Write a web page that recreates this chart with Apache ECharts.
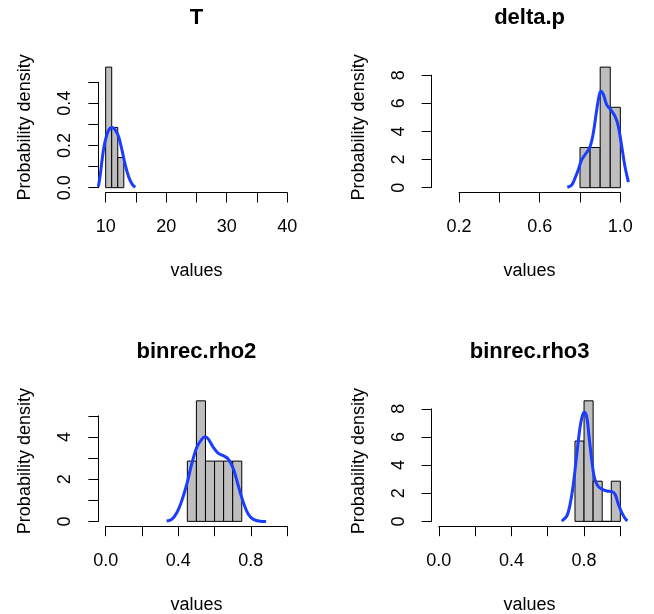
<!DOCTYPE html>
<html><head><meta charset="utf-8">
<script src="https://cdn.jsdelivr.net/npm/echarts@6/dist/echarts.min.js"></script>
<style>html,body{margin:0;padding:0;background:#fff}#c{width:654px;height:614px}</style>
</head><body><div id="c"></div>
<script>
// ---- text ----
const titles = ['T', 'delta.p', 'binrec.rho2', 'binrec.rho3'];
const xName = 'values';
const yName = 'Probability density';

// ---- histograms (bin edges and densities) ----
const T_breaks = [10, 11, 12, 13];
const T_density = [0.5714, 0.2857, 0.1429];
const deltaP_breaks = [0.80, 0.85, 0.90, 0.95, 1.00];
const deltaP_density = [2.857, 2.857, 8.571, 5.714];
const rho2_breaks = [0.45, 0.50, 0.55, 0.60, 0.65, 0.70, 0.75];
const rho2_density = [2.857, 5.714, 2.857, 2.857, 2.857, 2.857];
const rho3_breaks = [0.75, 0.80, 0.85, 0.90, 0.95, 1.00];
const rho3_density = [5.714, 8.571, 2.857, 0, 2.857];

// ---- density curves ----
const T_kdeX = [8.8, 9.1, 9.4, 9.7, 10.0, 10.5, 11.05, 11.6, 12.15, 12.7, 13.25, 13.8, 14.35, 14.9];
const T_kdeY = [0.005, 0.06, 0.13, 0.19, 0.23, 0.273, 0.285, 0.273, 0.241, 0.178, 0.107, 0.052, 0.018, 0.002];
const deltaP_kdeX = [0.737, 0.759, 0.775, 0.791, 0.808, 0.825, 0.849, 0.866, 0.883, 0.896, 0.904, 0.916, 0.932, 0.952, 0.974, 0.990, 1.007, 1.023, 1.040];
const deltaP_kdeY = [0.03, 0.19, 0.67, 1.26, 1.98, 2.34, 2.89, 3.89, 5.55, 6.62, 6.86, 6.62, 5.91, 5.55, 5.07, 4.36, 2.93, 1.5, 0.4];
const rho2_kdeX = [0.336, 0.364, 0.392, 0.419, 0.447, 0.474, 0.502, 0.530, 0.548, 0.566, 0.593, 0.621, 0.649, 0.676, 0.704, 0.731, 0.759, 0.787, 0.814, 0.851, 0.884];
const rho2_kdeY = [0.014, 0.095, 0.41, 0.97, 1.76, 2.71, 3.51, 3.9, 4.01, 3.9, 3.51, 3.22, 3.11, 2.95, 2.48, 1.68, 0.89, 0.33, 0.095, 0.01, 0];
const rho3_kdeX = [0.677, 0.705, 0.723, 0.741, 0.760, 0.778, 0.791, 0.802, 0.815, 0.828, 0.843, 0.857, 0.876, 0.898, 0.925, 0.953, 0.971, 0.989, 1.008, 1.030, 1.040];
const rho3_kdeY = [0.02, 0.38, 1.21, 2.64, 4.79, 6.69, 7.52, 7.76, 7.41, 5.98, 4.31, 3.12, 2.52, 2.29, 2.16, 2.12, 1.93, 1.21, 0.62, 0.14, 0.05];

// ---- axis limits and ticks ----
const xLimits = [[10, 40], [0.1, 1.0], [0, 1], [0, 1]];
const xTicks = [[10, 40, 5], [0.2, 1.0, 0.2], [0, 1, 0.2], [0, 1, 0.2]];
const xTickLabels = [['10', '20', '30', '40'], ['0.2', '0.6', '1.0'], ['0.0', '0.4', '0.8'], ['0.0', '0.4', '0.8']];
const xDecimals = [0, 1, 1, 1];
const yTicks = [[0, 0.5, 0.1], [0, 8, 2], [0, 5, 1], [0, 8, 2]];
const yTickLabels = [['0.0', '0.2', '0.4'], ['0', '2', '4', '6', '8'], ['0', '2', '4'], ['0', '2', '4', '6', '8']];
const yDecimals = [1, 0, 0, 0];

const breaks = [T_breaks, deltaP_breaks, rho2_breaks, rho3_breaks];
const densities = [T_density, deltaP_density, rho2_density, rho3_density];
const kdeXs = [T_kdeX, deltaP_kdeX, rho2_kdeX, rho3_kdeX];
const kdeYs = [T_kdeY, deltaP_kdeY, rho2_kdeY, rho3_kdeY];

// ---- layout ----
const boxes = [{l: 98.4, t: 62.3}, {l: 431.6, t: 62.3}, {l: 98.4, t: 396}, {l: 431.6, t: 396}];
const W = 196, H = 130.2;
const FONT = '"Liberation Sans", Arial, Helvetica, sans-serif';
const BLUE = '#1a3dff';

const grid = [], xAxis = [], yAxis = [], series = [], title = [];

for (let i = 0; i < 4; i++) {
  const {l: L, t: T} = boxes[i];
  const [xl0, xl1] = xLimits[i];
  const xmin = xl0 - 0.04 * (xl1 - xl0), xmax = xl1 + 0.04 * (xl1 - xl0);
  const yTop = Math.max(...densities[i]);
  const ymin = -0.04 * yTop, ymax = 1.04 * yTop;
  const g = grid.length;

  // plot grid
  grid.push({left: L, top: T, width: W, height: H, outerBoundsMode: 'none', containLabel: false});
  xAxis.push({gridIndex: g, type: 'value', min: xmin, max: xmax, show: true,
    axisLine: {show: false}, axisTick: {show: false}, axisLabel: {show: false}, splitLine: {show: false},
    name: xName, nameLocation: 'middle', nameGap: 70,
    nameTextStyle: {fontSize: 18, color: '#000', fontFamily: FONT}});
  yAxis.push({gridIndex: g, type: 'value', min: ymin, max: ymax, show: true,
    axisLine: {show: false}, axisTick: {show: false}, axisLabel: {show: false}, splitLine: {show: false},
    name: yName, nameLocation: 'middle', nameGap: 64, nameRotate: 90,
    nameTextStyle: {fontSize: 18, color: '#000', fontFamily: FONT}});

  // x axis grid
  const [tx0, tx1, txi] = xTicks[i];
  grid.push({left: L + (tx0 - xmin) / (xmax - xmin) * W, width: (tx1 - tx0) / (xmax - xmin) * W,
    top: T, height: H, outerBoundsMode: 'none', containLabel: false});
  const xl = xTickLabels[i], xd = xDecimals[i];
  xAxis.push({gridIndex: g + 1, type: 'value', min: tx0, max: tx1, interval: txi,
    axisLine: {show: true, lineStyle: {color: '#000', width: 1}},
    axisTick: {show: true, length: 10, inside: false, lineStyle: {color: '#000', width: 1}},
    axisLabel: {show: true, margin: 25.5, fontSize: 18, color: '#000', fontFamily: FONT, hideOverlap: false,
      showMinLabel: true, showMaxLabel: true,
      formatter: v => { const s = v.toFixed(xd); return xl.includes(s) ? s : ''; }},
    splitLine: {show: false}});
  yAxis.push({gridIndex: g + 1, type: 'value', show: false, min: 0, max: 1});

  // y axis grid
  const [ty0, ty1, tyi] = yTicks[i];
  grid.push({left: L, width: W, top: T + (ymax - ty1) / (ymax - ymin) * H,
    height: (ty1 - ty0) / (ymax - ymin) * H, outerBoundsMode: 'none', containLabel: false});
  const yl = yTickLabels[i], yd = yDecimals[i];
  xAxis.push({gridIndex: g + 2, type: 'value', show: false, min: 0, max: 1});
  yAxis.push({gridIndex: g + 2, type: 'value', min: ty0, max: ty1, interval: tyi,
    axisLine: {show: true, lineStyle: {color: '#000', width: 1}},
    axisTick: {show: true, length: 10, inside: false, lineStyle: {color: '#000', width: 1}},
    axisLabel: {show: true, margin: 24, rotate: 90, fontSize: 18, color: '#000', fontFamily: FONT, hideOverlap: false,
      showMinLabel: true, showMaxLabel: true,
      formatter: v => { const s = v.toFixed(yd); return yl.includes(s) ? s : ''; }},
    splitLine: {show: false}});

  // histogram bars
  const br = breaks[i], de = densities[i];
  const bins = de.map((d, k) => [br[k], br[k + 1], d]);
  series.push({type: 'custom', xAxisIndex: g, yAxisIndex: g, data: bins, z: 2,
    encode: {x: [0, 1], y: 2},
    renderItem: (params, api) => {
      const p0 = api.coord([api.value(0), api.value(2)]);
      const p1 = api.coord([api.value(1), 0]);
      return {type: 'rect',
        shape: {x: p0[0], y: p0[1], width: p1[0] - p0[0], height: p1[1] - p0[1]},
        style: {fill: '#bebebe', stroke: '#000', lineWidth: 1}};
    }});

  // density curve
  const kx = kdeXs[i], ky = kdeYs[i];
  series.push({type: 'line', xAxisIndex: g, yAxisIndex: g, data: kx.map((x, k) => [x, ky[k]]),
    smooth: 0.35, showSymbol: false, symbol: 'none', clip: true, z: 3,
    lineStyle: {color: BLUE, width: 3}});

  title.push({text: titles[i], left: L + W / 2, top: T - 55, textAlign: 'center', padding: 0,
    textStyle: {fontSize: 22, fontWeight: 'bold', color: '#000', fontFamily: FONT}});
}

const chart = echarts.init(document.getElementById('c'), null, {renderer: 'canvas'});
chart.setOption({animation: false, backgroundColor: '#fff', title, grid, xAxis, yAxis, series, tooltip: {show: false}});
</script>
</body></html>
